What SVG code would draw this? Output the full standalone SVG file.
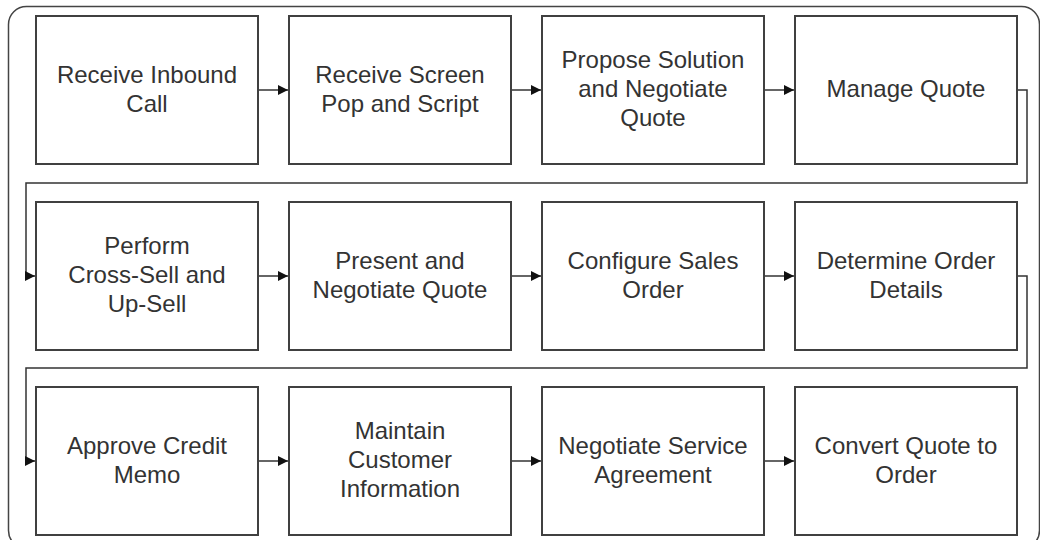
<svg xmlns="http://www.w3.org/2000/svg" width="1040" height="540" viewBox="0 0 1040 540">
  <style>
    .box { fill: #ffffff; stroke: #404040; stroke-width: 2; }
    .lbl { font-family: "Liberation Sans", Arial, sans-serif; font-size: 24px; fill: #333333; text-anchor: middle; }
    .conn { fill: none; stroke: #333333; stroke-width: 1.5; }
    .frame { fill: none; stroke: #444444; stroke-width: 1.5; }
  </style>
  <defs>
    <marker id="arr" markerUnits="userSpaceOnUse" markerWidth="10" markerHeight="10" refX="10" refY="5" orient="auto">
      <path d="M0,0 L10,5 L0,10 z" fill="#111111"/>
    </marker>
  </defs>
  <rect width="1040" height="540" fill="#ffffff"/>
  <rect class="frame" x="8.5" y="6.5" width="1031" height="542" rx="18" ry="18"/>

  <g id="connectors">
    <path class="conn" d="M258,90 H288" marker-end="url(#arr)"/>
    <path class="conn" d="M511,90 H541" marker-end="url(#arr)"/>
    <path class="conn" d="M764,90 H794" marker-end="url(#arr)"/>
    <path class="conn" d="M1018,90 H1027 V183 H26 V276 H35" marker-end="url(#arr)"/>
    <path class="conn" d="M258,276 H288" marker-end="url(#arr)"/>
    <path class="conn" d="M511,276 H541" marker-end="url(#arr)"/>
    <path class="conn" d="M764,276 H794" marker-end="url(#arr)"/>
    <path class="conn" d="M1018,276 H1027 V368 H26 V461 H35" marker-end="url(#arr)"/>
    <path class="conn" d="M258,461 H288" marker-end="url(#arr)"/>
    <path class="conn" d="M511,461 H541" marker-end="url(#arr)"/>
    <path class="conn" d="M764,461 H794" marker-end="url(#arr)"/>
  </g>

  <g id="n1"><rect class="box" x="36" y="16" width="222" height="148"/>
    <text class="lbl" x="147"><tspan x="147" y="82.5">Receive Inbound</tspan><tspan x="147" y="111.5">Call</tspan></text></g>
  <g id="n2"><rect class="box" x="289" y="16" width="222" height="148"/>
    <text class="lbl" x="400"><tspan x="400" y="82.5">Receive Screen</tspan><tspan x="400" y="111.5">Pop and Script</tspan></text></g>
  <g id="n3"><rect class="box" x="542" y="16" width="222" height="148"/>
    <text class="lbl" x="653"><tspan x="653" y="68">Propose Solution</tspan><tspan x="653" y="97">and Negotiate</tspan><tspan x="653" y="126">Quote</tspan></text></g>
  <g id="n4"><rect class="box" x="795" y="16" width="222" height="148"/>
    <text class="lbl" x="906" y="97">Manage Quote</text></g>

  <g id="n5"><rect class="box" x="36" y="202" width="222" height="148"/>
    <text class="lbl" x="147"><tspan x="147" y="254">Perform</tspan><tspan x="147" y="283">Cross-Sell and</tspan><tspan x="147" y="312">Up-Sell</tspan></text></g>
  <g id="n6"><rect class="box" x="289" y="202" width="222" height="148"/>
    <text class="lbl" x="400"><tspan x="400" y="268.5">Present and</tspan><tspan x="400" y="297.5">Negotiate Quote</tspan></text></g>
  <g id="n7"><rect class="box" x="542" y="202" width="222" height="148"/>
    <text class="lbl" x="653"><tspan x="653" y="268.5">Configure Sales</tspan><tspan x="653" y="297.5">Order</tspan></text></g>
  <g id="n8"><rect class="box" x="795" y="202" width="222" height="148"/>
    <text class="lbl" x="906"><tspan x="906" y="268.5">Determine Order</tspan><tspan x="906" y="297.5">Details</tspan></text></g>

  <g id="n9"><rect class="box" x="36" y="387" width="222" height="148"/>
    <text class="lbl" x="147"><tspan x="147" y="453.5">Approve Credit</tspan><tspan x="147" y="482.5">Memo</tspan></text></g>
  <g id="n10"><rect class="box" x="289" y="387" width="222" height="148"/>
    <text class="lbl" x="400"><tspan x="400" y="439">Maintain</tspan><tspan x="400" y="468">Customer</tspan><tspan x="400" y="497">Information</tspan></text></g>
  <g id="n11"><rect class="box" x="542" y="387" width="222" height="148"/>
    <text class="lbl" x="653"><tspan x="653" y="453.5">Negotiate Service</tspan><tspan x="653" y="482.5">Agreement</tspan></text></g>
  <g id="n12"><rect class="box" x="795" y="387" width="222" height="148"/>
    <text class="lbl" x="906"><tspan x="906" y="453.5">Convert Quote to</tspan><tspan x="906" y="482.5">Order</tspan></text></g>
</svg>
